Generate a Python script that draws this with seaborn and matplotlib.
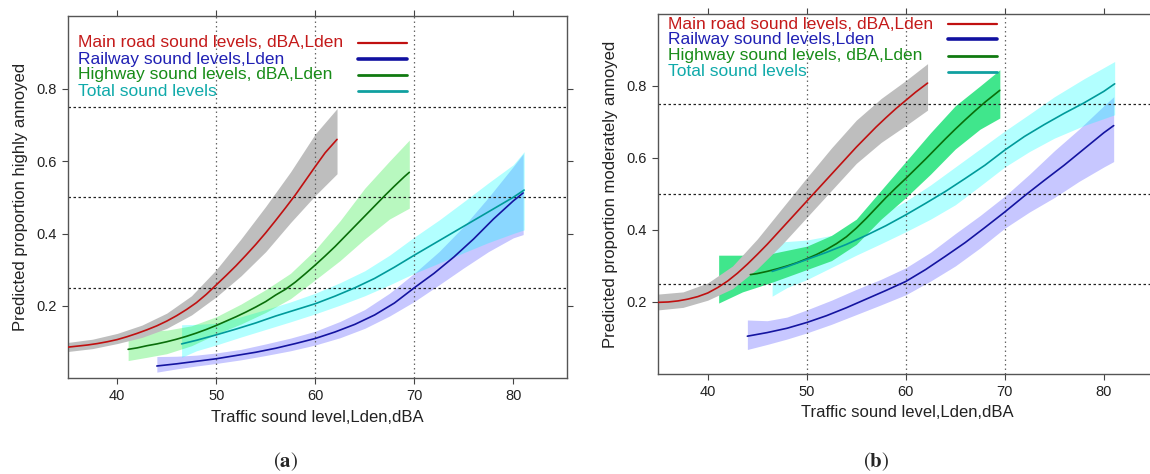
import numpy as np
import matplotlib
matplotlib.use("Agg")
import matplotlib.pyplot as plt
import seaborn as sns
from matplotlib.lines import Line2D

# ---------------- data: panel (a) highly annoyed ----------------
a_main_x = [35, 36, 37, 38, 39, 40, 41, 42, 43, 44, 45, 46, 47, 48, 49, 50, 51, 52, 53, 54,
            55, 56, 57, 58, 59, 60, 61, 62.2]
a_main_y = [0.086, 0.089, 0.092, 0.096, 0.101, 0.107, 0.115, 0.124, 0.134, 0.145, 0.158,
            0.173, 0.19, 0.209, 0.232, 0.258, 0.284, 0.311, 0.34, 0.37, 0.402, 0.436,
            0.471, 0.507, 0.546, 0.585, 0.623, 0.66]
a_main_bx = [35, 37.5, 40, 42.5, 45, 47.5, 50, 52.5, 55, 57.5, 60, 62.2]
a_main_lo = [0.074, 0.082, 0.096, 0.113, 0.138, 0.175, 0.225, 0.283, 0.35, 0.43, 0.505, 0.565]
a_main_hi = [0.099, 0.108, 0.124, 0.147, 0.18, 0.228, 0.30, 0.385, 0.475, 0.57, 0.675, 0.745]

a_rail_x = [44, 46, 48, 50, 52, 54, 56, 58, 60, 62, 64, 66, 68, 70, 72, 74, 76, 78, 80, 81]
a_rail_y = [0.034, 0.040, 0.047, 0.054, 0.063, 0.072, 0.083, 0.096, 0.11, 0.128, 0.149,
            0.175, 0.208, 0.25, 0.29, 0.335, 0.385, 0.44, 0.49, 0.512]
a_rail_bx = [44, 46, 48, 50, 52.5, 55, 57.5, 60, 62.5, 65, 67.5, 70, 72.5, 75, 77.5, 80, 81]
a_rail_lo = [0.017, 0.026, 0.034, 0.041, 0.051, 0.063, 0.076, 0.092, 0.112, 0.138, 0.172,
             0.212, 0.258, 0.305, 0.35, 0.388, 0.397]
a_rail_hi = [0.06, 0.061, 0.064, 0.07, 0.08, 0.095, 0.111, 0.13, 0.157, 0.19, 0.235, 0.29,
             0.35, 0.42, 0.50, 0.585, 0.62]

a_high_x = [41.1, 42, 43, 44, 45, 46, 47, 48, 49, 50, 51, 52, 53, 54, 55, 56, 57, 58, 59,
            60, 61, 62, 63, 64, 65, 66, 67, 68, 69, 69.5]
a_high_y = [0.080, 0.084, 0.090, 0.095, 0.101, 0.108, 0.116, 0.125, 0.135, 0.146, 0.158,
            0.170, 0.183, 0.197, 0.212, 0.23, 0.246, 0.266, 0.289, 0.313, 0.338, 0.364,
            0.392, 0.42, 0.448, 0.476, 0.504, 0.531, 0.557, 0.569]
a_high_bx = [41.1, 43, 45, 47.5, 50, 52.5, 55, 57.5, 60, 62.5, 65, 67.5, 69.5]
a_high_lo = [0.049, 0.058, 0.068, 0.09, 0.122, 0.15, 0.182, 0.22, 0.272, 0.325, 0.385, 0.44, 0.47]
a_high_hi = [0.131, 0.131, 0.133, 0.145, 0.17, 0.205, 0.245, 0.29, 0.355, 0.435, 0.525, 0.6, 0.658]

a_tot_x = [46.5, 48, 50, 52, 54, 56, 58, 60, 62, 64, 66, 68, 70, 72, 74, 76, 78, 80, 81.1]
a_tot_y = [0.095, 0.105, 0.12, 0.136, 0.153, 0.172, 0.189, 0.206, 0.227, 0.25, 0.276,
           0.307, 0.34, 0.372, 0.404, 0.436, 0.468, 0.50, 0.52]
a_tot_bx = [46.5, 48, 50, 52.5, 55, 57.5, 60, 62.5, 65, 67.5, 70, 72.5, 75, 77.5, 80, 81.1]
a_tot_lo = [0.058, 0.076, 0.092, 0.114, 0.135, 0.156, 0.178, 0.202, 0.228, 0.258, 0.29,
            0.318, 0.347, 0.375, 0.40, 0.41]
a_tot_hi = [0.148, 0.149, 0.152, 0.17, 0.19, 0.211, 0.235, 0.264, 0.297, 0.34, 0.39,
            0.437, 0.488, 0.54, 0.59, 0.626]

# ---------------- data: panel (b) moderately annoyed ----------------
b_main_x = [35, 36, 37, 38, 39, 40, 41, 42, 43, 44, 45, 46, 47, 48, 49, 50, 51, 52, 53, 54,
            55, 56, 57, 58, 59, 60, 61, 62.2]
b_main_y = [0.199, 0.200, 0.203, 0.208, 0.215, 0.225, 0.24, 0.258, 0.28, 0.305, 0.332,
            0.36, 0.39, 0.42, 0.45, 0.48, 0.51, 0.54, 0.57, 0.60, 0.63, 0.658, 0.686,
            0.712, 0.737, 0.76, 0.783, 0.808]
b_main_bx = [35, 37.5, 40, 42.5, 45, 47.5, 50, 52.5, 55, 57.5, 60, 62.2]
b_main_lo = [0.178, 0.185, 0.205, 0.237, 0.292, 0.36, 0.435, 0.51, 0.585, 0.643, 0.69, 0.733]
b_main_hi = [0.222, 0.228, 0.253, 0.30, 0.375, 0.46, 0.545, 0.628, 0.705, 0.765, 0.815, 0.862]

b_rail_x = [44, 46, 48, 50, 52, 54, 56, 58, 60, 62, 64, 66, 68, 70, 72, 74, 76, 78, 80, 81]
b_rail_y = [0.105, 0.115, 0.127, 0.143, 0.162, 0.184, 0.208, 0.232, 0.257, 0.29, 0.327,
            0.365, 0.407, 0.45, 0.495, 0.538, 0.58, 0.625, 0.67, 0.69]
b_rail_bx = [44, 46, 48, 50, 52.5, 55, 57.5, 60, 62.5, 65, 67.5, 70, 72.5, 75, 77.5, 80, 81]
b_rail_lo = [0.068, 0.082, 0.097, 0.114, 0.138, 0.165, 0.192, 0.22, 0.258, 0.30, 0.35,
             0.405, 0.45, 0.49, 0.535, 0.575, 0.59]
b_rail_hi = [0.15, 0.148, 0.158, 0.178, 0.205, 0.235, 0.263, 0.295, 0.338, 0.39, 0.44,
             0.494, 0.555, 0.62, 0.68, 0.745, 0.77]

b_high_x = [44.3, 45, 46, 47, 48, 49, 50, 51, 52, 53, 54, 55, 56, 57, 58, 59, 60, 61, 62,
            63, 64, 65, 66, 67, 68, 69, 69.5]
b_high_y = [0.276, 0.279, 0.285, 0.292, 0.30, 0.309, 0.32, 0.332, 0.346, 0.362, 0.381,
            0.405, 0.432, 0.461, 0.49, 0.517, 0.543, 0.57, 0.597, 0.625, 0.653, 0.68,
            0.706, 0.731, 0.755, 0.777, 0.788]
b_high_bx = [41.1, 43.5, 46.5, 50, 52.5, 55, 57.5, 60, 62.5, 65, 67.5, 69.5]
b_high_lo = [0.197, 0.228, 0.255, 0.29, 0.315, 0.36, 0.43, 0.49, 0.555, 0.625, 0.68, 0.711]
b_high_hi = [0.33, 0.33, 0.335, 0.355, 0.385, 0.43, 0.51, 0.59, 0.67, 0.745, 0.80, 0.845]

b_tot_x = [46.5, 48, 50, 52, 54, 56, 58, 60, 62, 64, 66, 68, 70, 72, 74, 76, 78, 80, 81.1]
b_tot_y = [0.285, 0.298, 0.318, 0.338, 0.36, 0.385, 0.412, 0.442, 0.474, 0.507, 0.543,
           0.58, 0.622, 0.66, 0.693, 0.724, 0.753, 0.785, 0.806]
b_tot_bx = [46.5, 48, 50, 52.5, 55, 57.5, 60, 62.5, 65, 67.5, 70, 72.5, 75, 78, 81.1]
b_tot_lo = [0.216, 0.24, 0.262, 0.296, 0.33, 0.362, 0.395, 0.43, 0.47, 0.522, 0.575,
            0.618, 0.655, 0.69, 0.72]
b_tot_hi = [0.366, 0.368, 0.372, 0.385, 0.41, 0.442, 0.48, 0.525, 0.575, 0.625, 0.675,
            0.722, 0.77, 0.82, 0.868]

legend_labels = ["Main road sound levels, dBA,Lden", "Railway sound levels,Lden",
                 "Highway sound levels, dBA,Lden", "Total sound levels"]
x_ticks = [40, 50, 60, 70, 80]
y_ticks = [0.2, 0.4, 0.6, 0.8]
v_refs = [50, 60, 70]
h_refs = [0.25, 0.5, 0.75]

# ---------------- style ----------------
sns.set_theme(style="white")
plt.rcParams["font.family"] = ["Liberation Sans", "DejaVu Sans"]
plt.rcParams["mathtext.fontset"] = "stix"

line_cols = {"main": "#c01010", "rail": "#1414a0", "high": "#0a6e0a", "tot": "#009a9a"}
text_cols = ["#c41a1a", "#2020b4", "#188c18", "#10aaaa"]
leg_line_cols = ["#c01010", "#1010a0", "#107a10", "#10a0a0"]
leg_lw = [1.6, 2.6, 2.0, 2.0]

fig = plt.figure(figsize=(11.5, 4.74), dpi=100)
ax_a = fig.add_axes([0.0589, 0.2019, 0.4339, 0.7637])
ax_b = fig.add_axes([0.5724, 0.2110, 0.4339, 0.7595])


def draw_panel(ax, d, green_band, ylabel):
    # bands
    ax.fill_between(d["rail"][2], d["rail"][3], d["rail"][4], color=(0, 0, 1), alpha=0.22, lw=0, zorder=1)
    ax.fill_between(d["tot"][2], d["tot"][3], d["tot"][4], color=(0, 1, 1), alpha=0.30, lw=0, zorder=1.1)
    ax.fill_between(d["high"][2], d["high"][3], d["high"][4], color=green_band[:3], lw=0, zorder=1.2,
                    alpha=green_band[3])
    ax.fill_between(d["main"][2], d["main"][3], d["main"][4], color="#bebebe", lw=0, zorder=1.3)
    # lines
    for key in ["main", "high", "tot", "rail"]:
        sns.lineplot(x=d[key][0], y=d[key][1], ax=ax, color=line_cols[key], lw=1.2,
                     sort=False, estimator=None, zorder=3)
    # reference lines
    for v in v_refs:
        ax.axvline(v, color="#666666", ls=(0, (1.2, 2.4)), lw=0.9, zorder=2)
    for h in h_refs:
        ax.axhline(h, color="#222222", ls=(0, (2, 2)), lw=0.9, zorder=2)
    ax.set_xlim(35, 85.4)
    ax.set_ylim(0, 1.0)
    ax.set_xticks(x_ticks)
    ax.set_yticks(y_ticks)
    ax.set_yticklabels([f"{t:.1f}" for t in y_ticks])
    ax.tick_params(direction="out", length=4, width=0.8, colors="#444444", labelcolor="#222222",
                   labelsize=10.5, top=True, right=True, left=True, bottom=True,
                   labeltop=False, labelright=False, pad=4)
    for sp in ax.spines.values():
        sp.set_color("#555555")
        sp.set_linewidth(1.0)
    ax.set_xlabel("Traffic sound level,Lden,dBA", fontsize=12, color="#222222")
    ax.set_ylabel(ylabel, fontsize=12, color="#222222")
    ax.xaxis.set_label_coords(0.5, -0.087)
    ax.xaxis.label.set_va("top")
    ax.yaxis.set_label_coords(-0.080, 0.5)


da = {"main": (a_main_x, a_main_y, a_main_bx, a_main_lo, a_main_hi),
      "rail": (a_rail_x, a_rail_y, a_rail_bx, a_rail_lo, a_rail_hi),
      "high": (a_high_x, a_high_y, a_high_bx, a_high_lo, a_high_hi),
      "tot": (a_tot_x, a_tot_y, a_tot_bx, a_tot_lo, a_tot_hi)}
db = {"main": (b_main_x, b_main_y, b_main_bx, b_main_lo, b_main_hi),
      "rail": (b_rail_x, b_rail_y, b_rail_bx, b_rail_lo, b_rail_hi),
      "high": (b_high_x, b_high_y, b_high_bx, b_high_lo, b_high_hi),
      "tot": (b_tot_x, b_tot_y, b_tot_bx, b_tot_lo, b_tot_hi)}

draw_panel(ax_a, da, (0.0, 0.9, 0.1, 0.28), "Predicted proportion highly annoyed")
draw_panel(ax_b, db, (0.25, 0.90, 0.55, 1.0), "Predicted proportion moderately annoyed")


def legend_block(ax, x_text, ys, x0, x1):
    for lab, y, tc, lc, lw in zip(legend_labels, ys, text_cols, leg_line_cols, leg_lw):
        ax.text(x_text, y, lab, transform=ax.transAxes, color=tc, fontsize=12.5,
                va="center", ha="left", zorder=5)
        ax.add_line(Line2D([x0, x1], [y, y], transform=ax.transAxes, color=lc, lw=lw, zorder=5))


legend_block(ax_a, 0.021, [0.927, 0.882, 0.838, 0.793], 0.582, 0.680)
legend_block(ax_b, 0.019, [0.972, 0.930, 0.884, 0.840], 0.580, 0.679)

fig.text(286 / 1150, 1 - 462 / 474, r"$(\mathbf{a})$", ha="center", va="center", fontsize=15)
fig.text(876 / 1150, 1 - 462 / 474, r"$(\mathbf{b})$", ha="center", va="center", fontsize=15)

fig.savefig("out.png", dpi=100)
